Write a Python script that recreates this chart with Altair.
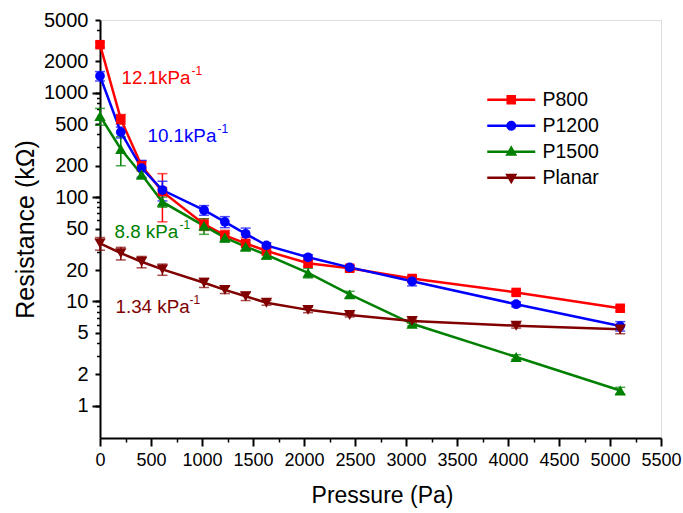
import altair as alt
import pandas as pd

# ---------------- data ----------------
pressure = [0, 204, 408, 612, 1020, 1224, 1428, 1632, 2040, 2448, 3060, 4080, 5100]
series_names = ["P800", "P1200", "P1500", "Planar"]
colors = ["#FF0000", "#0000FF", "#008000", "#800000"]
markers = ["square", "circle", "triangle-up", "triangle-down"]

p800 = [2900, 560, 200, 113, 55, 43, 36, 30.5, 23.2, 20.8, 16.6, 12.2, 8.6]
p800_err = [150, 60, 22, 55, 7, 5, 5, 2.5, 1.5, 1.2, 1.0, 0.6, 0.5]
p1200 = [1450, 420, 190, 117, 75, 58, 44.5, 34.5, 26.5, 21.2, 15.6, 9.4, 5.8]
p1200_err = [150, 50, 35, 25, 8, 7, 6, 2, 1.5, 1.0, 1.5, 0.5, 0.6]
p1500 = [600, 290, 165, 90, 53, 41, 33.5, 28, 18.8, 11.7, 6.1, 2.93, 1.4]
p1500_err = [110, 90, 15, 10, 9, 4, 3, 2.5, 2, 0.8, 0.3, 0.15, 0.1]
planar = [36, 29, 24, 20.3, 15.1, 12.9, 11.2, 9.7, 8.3, 7.4, 6.5, 5.85, 5.4]
planar_err = [5, 4, 3, 2.5, 1.5, 1.0, 1.0, 0.5, 0.5, 0.3, 0.3, 0.3, 0.5]

ann_text = ["12.1kPa", "10.1kPa", "8.8 kPa", "1.34 kPa"]
ann_sup = ["-1", "-1", "-1", "-1"]
ann_x = [211, 465, 142, 152]
ann_y = [1210, 340, 40.3, 7.66]

y_major = [1, 2, 5, 10, 20, 50, 100, 200, 500, 1000, 2000, 5000]
y_decade = [1, 10, 100, 1000]
y_minor = [3, 4, 6, 7, 8, 9, 30, 40, 60, 70, 80, 90, 300, 400, 600, 700, 800, 900, 3000, 4000]
x_major = list(range(0, 5501, 500))
x_minor = list(range(250, 5500, 500))

# ---------------- tables ----------------
rows = []
for name, vals, errs in zip(series_names, [p800, p1200, p1500, planar],
                            [p800_err, p1200_err, p1500_err, planar_err]):
    for x, v, e in zip(pressure, vals, errs):
        rows.append(dict(series=name, pressure=x, r=v, lo=v - e, hi=v + e))
df = pd.DataFrame(rows)

ann_df = pd.DataFrame(dict(text=ann_text, sup=ann_sup, x=ann_x, y=ann_y))

FONT = "Liberation Sans"
xscale = alt.Scale(domain=[0, 5500], nice=False, zero=False)
yscale = alt.Scale(type="log", domain=[0.49, 5000], nice=False)

base = alt.Chart(df)

ax_common = dict(domainColor="black", tickColor="black", grid=False,
                 labelFont=FONT, labelColor="black", titleFont=FONT, titleColor="black")

x_main = alt.Axis(values=x_major, format="d", tickSize=8, tickWidth=2, domainWidth=2,
                  labelFontSize=18, labelPadding=5, labelFlush=False, labelOverlap=False,
                  title="Pressure (Pa)", titleFontSize=23, titleFontWeight="normal",
                  titleX=282, titleY=64, titleBaseline="alphabetic", titleAnchor="middle",
                  orient="bottom", **ax_common)
x_min = alt.Axis(values=x_minor, labels=False, tickSize=4, tickWidth=1.5, domain=False,
                 title=None, orient="bottom", **ax_common)

y_main = alt.Axis(values=y_major, format="d", tickSize=5, tickWidth=2, domainWidth=2,
                  labelFontSize=20, labelPadding=7, labelFlush=False, labelOverlap=False,
                  title="Resistance (kΩ)", titleFontSize=25, titleFontWeight="normal",
                  titleX=-67, titleY=209, titleBaseline="alphabetic", titleAngle=270,
                  titleAlign="center", orient="left", **ax_common)
y_dec = alt.Axis(values=y_decade, labels=False, tickSize=8, tickWidth=2, domain=False,
                 title=None, orient="left", **ax_common)
y_min = alt.Axis(values=y_minor, labels=False, tickSize=3.5, tickWidth=1.5, domain=False,
                 title=None, orient="left", **ax_common)

# per-series layers with constant colours
whisker_layers, cap_layers, line_layers, point_layers = [], [], [], []
point_sizes = [90, 95, 130, 130]
for i, name in enumerate(series_names):
    sb = base.transform_filter(alt.datum.series == name)
    whisker_layers.append(sb.mark_rule(strokeWidth=1.5, color=colors[i]).encode(
        x=alt.X("pressure:Q", scale=xscale, axis=x_min if i == 0 else None),
        y=alt.Y("lo:Q", scale=yscale, axis=y_min if i == 0 else None),
        y2="hi:Q",
    ))
    cap_layers.append(sb.transform_fold(["lo", "hi"], as_=["k", "cap"]).mark_tick(
        orient="horizontal", size=10, thickness=1.5, color=colors[i]
    ).encode(
        x=alt.X("pressure:Q", scale=xscale, axis=None),
        y=alt.Y("cap:Q", scale=yscale, axis=None),
    ))
    line_layers.append(sb.mark_line(strokeWidth=2.5, color=colors[i]).encode(
        x=alt.X("pressure:Q", scale=xscale, axis=x_main if i == 0 else None),
        y=alt.Y("r:Q", scale=yscale, axis=y_main if i == 0 else None),
    ))
    point_layers.append(sb.mark_point(
        filled=True, opacity=1, shape=markers[i], size=point_sizes[i], color=colors[i]
    ).encode(
        x=alt.X("pressure:Q", scale=xscale, axis=None),
        y=alt.Y("r:Q", scale=yscale, axis=y_dec if i == 0 else None),
    ))

# legend symbols: a filled thin bar (the line) plus the marker, all fill-only, same winding
legend_paths = [
    "M-12,-0.62H12V0.62H-12ZM-2.4,-2.4H2.4V2.4H-2.4Z",
    "M-12,-0.62H12V0.62H-12ZM2.5,0A2.5,2.5,0,1,1,-2.5,0A2.5,2.5,0,1,1,2.5,0Z",
    "M-12,-0.62H12V0.62H-12ZM0,-3.2L3.0,2.0L-3.0,2.0Z",
    "M-12,-0.62H12V0.62H-12ZM0,3.2L-3.0,-2.0L3.0,-2.0Z",
]
leg = alt.Legend(title=None, orient="none", legendX=401.5, legendY=70,
                 labelFont=FONT, labelFontSize=19.5, labelColor="black",
                 labelOffset=21.5, rowPadding=5.0, symbolSize=16, symbolStrokeWidth=0,
                 symbolOpacity=1, padding=0)

# legend carrier: its points are pushed far above the plotted range and clipped away
legend_layer = base.transform_calculate(far="datum.r * 1000000").mark_point(
    filled=True, size=16, clip=True
).encode(
    x=alt.X("pressure:Q", scale=xscale, axis=None),
    y=alt.Y("far:Q", scale=yscale, axis=None),
    color=alt.Color("series:N", scale=alt.Scale(domain=series_names, range=colors), legend=leg),
    shape=alt.Shape("series:N", scale=alt.Scale(domain=series_names, range=legend_paths),
                    legend=leg),
)

ann_layers = []
for i in range(len(ann_text)):
    sub = alt.Chart(ann_df.iloc[[i]])
    enc = dict(
        x=alt.X("x:Q", scale=xscale, axis=None),
        y=alt.Y("y:Q", scale=yscale, axis=None),
    )
    sup_dx = [70, 70, 65, 74][i]
    ann_layers.append(sub.mark_text(align="left", baseline="alphabetic", font=FONT,
                                    fontSize=18.8, color=colors[i]).encode(text="text:N", **enc))
    ann_layers.append(sub.mark_text(align="left", baseline="alphabetic", font=FONT,
                                    fontSize=12, color=colors[i], dx=sup_dx, dy=-9)
                      .encode(text="sup:N", **enc))

chart = alt.layer(*whisker_layers, *cap_layers, *line_layers, *point_layers,
                  legend_layer, *ann_layers).resolve_axis(
    x="independent", y="independent"
).properties(
    width=561, height=418,
    autosize=alt.AutoSizeParams(type="none"),
    padding={"left": 100, "top": 20, "right": 22, "bottom": 75},
).configure_view(stroke="black", strokeWidth=2).configure(font=FONT, background="white")

chart.save("out.html", embed_options={"renderer": "svg", "actions": False})
